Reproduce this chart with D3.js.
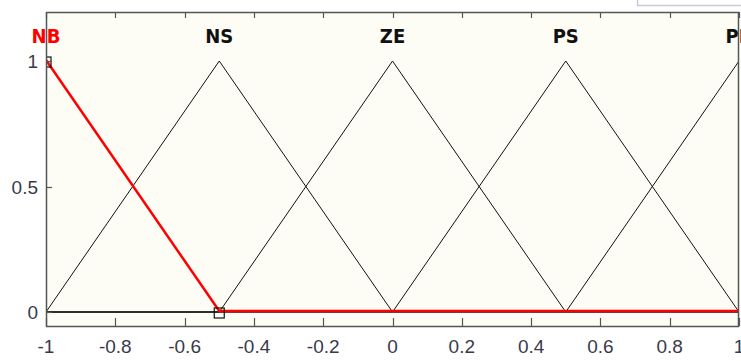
<!DOCTYPE html>
<html>
  <head>
    <meta charset="utf-8" />
    <title>Membership functions</title>
    <script src="https://d3js.org/d3.v7.min.js"></script>
    <style>
      body { margin: 0; background: white; }
      svg { display: block; }
    </style>
  </head>
  <body>
    <svg width="741" height="361" id="chart"></svg>
    <script>
      // membership function names and triangle params [a, b, c]
      const mfNames = ["NB", "NS", "ZE", "PS", "PB"];
      const mfParams = [
        [-1.5, -1, -0.5],
        [-1, -0.5, 0],
        [-0.5, 0, 0.5],
        [0, 0.5, 1],
        [0.5, 1, 1.5]
      ];
      const selected = 0; // NB is highlighted
      const xTicks = [-1, -0.8, -0.6, -0.4, -0.2, 0, 0.2, 0.4, 0.6, 0.8, 1];
      const xTickLabels = ["-1", "-0.8", "-0.6", "-0.4", "-0.2", "0", "0.2", "0.4", "0.6", "0.8", "1"];
      const yTicks = [0, 0.5, 1];
      const yTickLabels = ["0", "0.5", "1"];

      const svg = d3.select("#chart");
      const pL = 46, pR = 739, pT = 12, pB = 326;

      const x = d3.scaleLinear().domain([-1, 1]).range([pL, pR]);
      const y = d3.scaleLinear().domain([0, 1]).range([312, 61]);

      // little window frame at top right
      svg.append("path")
        .attr("d", "M637.5,0 V5.5 H741")
        .attr("fill", "none")
        .attr("stroke", "#c9c9d9")
        .attr("stroke-width", 1.5);

      svg.append("defs").append("clipPath").attr("id", "plot")
        .append("rect")
        .attr("x", pL).attr("y", pT)
        .attr("width", pR - pL).attr("height", pB - pT);

      svg.append("rect")
        .attr("x", pL).attr("y", pT)
        .attr("width", pR - pL).attr("height", pB - pT)
        .attr("fill", "#fdfdf6");

      const plot = svg.append("g").attr("clip-path", "url(#plot)");

      const line = d3.line().x(d => x(d[0])).y(d => y(d[1]));
      const mfPoints = p => [[-2, 0], [p[0], 0], [p[1], 1], [p[2], 0], [2, 0]];

      mfParams.forEach((p, i) => {
        if (i === selected) return;
        plot.append("path")
          .attr("d", line(mfPoints(p)))
          .attr("fill", "none")
          .attr("stroke", "#111")
          .attr("stroke-width", 1);
      });

      const sel = mfParams[selected];
      plot.append("path")
        .attr("d", line(mfPoints(sel)))
        .attr("transform", "translate(0,-1)")
        .attr("fill", "none")
        .attr("stroke", "#f00")
        .attr("stroke-width", 2.5);

      // vertex markers of selected mf
      plot.selectAll("rect.marker")
        .data([[sel[1], 1], [sel[2], 0]])
        .enter().append("rect")
        .attr("class", "marker")
        .attr("x", d => x(d[0]) - 5)
        .attr("y", d => y(d[1]) - 4)
        .attr("width", 10).attr("height", 10)
        .attr("fill", "none")
        .attr("stroke", "#111")
        .attr("stroke-width", 1.2);

      // mf labels
      svg.selectAll("text.mf")
        .data(mfNames)
        .enter().append("text")
        .attr("class", "mf")
        .attr("x", (d, i) => x(mfParams[i][1]))
        .attr("y", 43)
        .attr("text-anchor", "middle")
        .attr("font-family", "'Liberation Sans Narrow', 'Arial Narrow', 'DejaVu Sans Condensed', sans-serif")
        .attr("font-weight", "bold")
        .attr("font-size", 20)
        .attr("fill", (d, i) => i === selected ? "#f00" : "#111")
        .text(d => d);

      // frame
      svg.append("rect")
        .attr("x", pL + 0.5).attr("y", pT + 0.5)
        .attr("width", pR - pL - 1).attr("height", pB - pT)
        .attr("fill", "none")
        .attr("stroke", "#555")
        .attr("stroke-width", 1.5);

      // x ticks (bottom inward, top inward)
      xTicks.forEach(t => {
        const px = Math.round(x(t)) + 0.5;
        svg.append("line")
          .attr("x1", px).attr("x2", px)
          .attr("y1", pB).attr("y2", pB - 8)
          .attr("stroke", "#555").attr("stroke-width", 1.2);
        svg.append("line")
          .attr("x1", px).attr("x2", px)
          .attr("y1", pT).attr("y2", pT + 6)
          .attr("stroke", "#555").attr("stroke-width", 1.2);
      });

      svg.selectAll("text.xt")
        .data(xTicks)
        .enter().append("text")
        .attr("class", "xt")
        .attr("x", d => x(d))
        .attr("y", 353)
        .attr("text-anchor", "middle")
        .attr("font-family", "'Liberation Sans', Arial, sans-serif")
        .attr("font-size", 19)
        .attr("fill", "#3a3a4a")
        .text((d, i) => xTickLabels[i]);

      yTicks.forEach(t => {
        const py = Math.round(y(t)) + 0.5;
        svg.append("line")
          .attr("x1", pL).attr("x2", pL + 6)
          .attr("y1", py).attr("y2", py)
          .attr("stroke", "#555").attr("stroke-width", 1.2);
      });

      svg.selectAll("text.yt")
        .data(yTicks)
        .enter().append("text")
        .attr("class", "yt")
        .attr("x", 38)
        .attr("y", d => y(d) + 7)
        .attr("text-anchor", "end")
        .attr("font-family", "'Liberation Sans', Arial, sans-serif")
        .attr("font-size", 19)
        .attr("fill", "#3a3a4a")
        .text((d, i) => yTickLabels[i]);
    </script>
  </body>
</html>
